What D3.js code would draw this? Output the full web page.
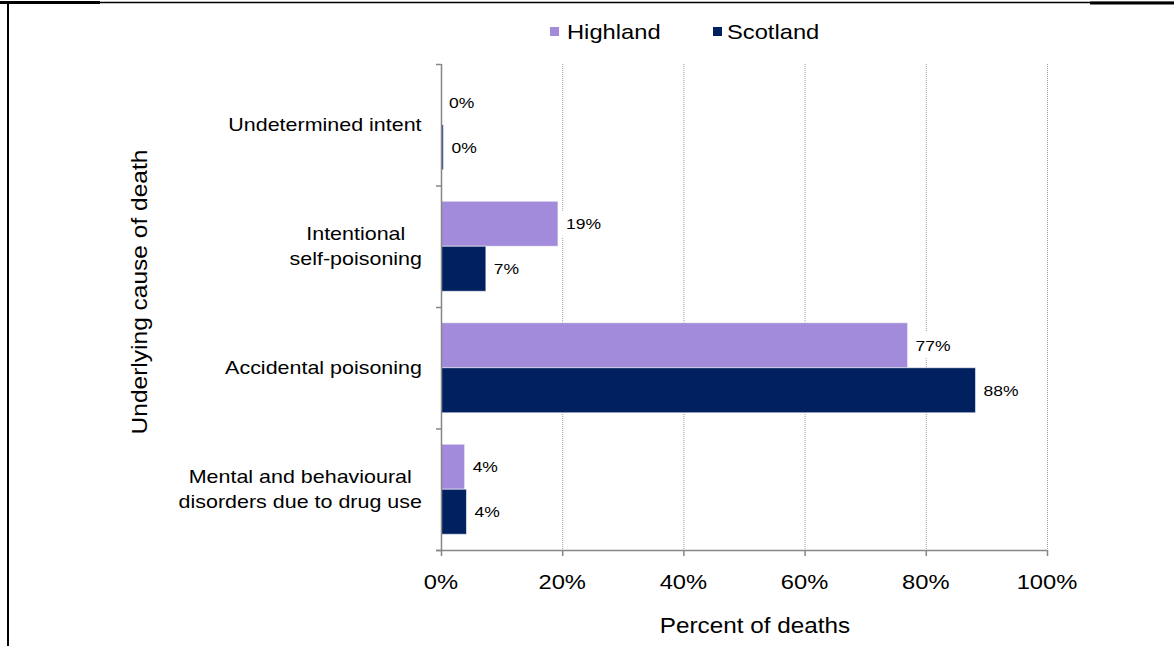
<!DOCTYPE html>
<html>
<head>
<meta charset="utf-8">
<script src="https://cdn.jsdelivr.net/npm/d3@7"></script>
<style>
  html, body { margin: 0; padding: 0; background: #fff; }
  svg { display: block; font-family: "Liberation Sans", Arial, sans-serif; }
</style>
</head>
<body>
<svg id="chart" width="1174" height="646"></svg>
<script>
// Underlying cause of drug-related deaths, Highland vs Scotland (percent of deaths)
const categories = [
  ["Undetermined intent"],
  ["Intentional", "self-poisoning"],
  ["Accidental poisoning"],
  ["Mental and behavioural", "disorders due to drug use"]
];
const seriesNames = ["Highland", "Scotland"];
const highland = [0, 19.3, 77.0, 3.9];
const scotland = [0.4, 7.4, 88.2, 4.2];
const xTicks = [0, 20, 40, 60, 80, 100];
const colors = ["#a28bdb", "#00205f"];

const SX = 1.13; // horizontal stretch of the lettering

const svg = d3.select("#chart");
const W = 1174, H = 646;
svg.append("rect").attr("width", W).attr("height", H).attr("fill", "#fff");

// stretched text placed at an anchor point
function label(parent, x, y, str, size, anchor, rotate) {
  const g = parent.append("g")
    .attr("transform", `translate(${x},${y})${rotate ? ` rotate(${rotate})` : ""} scale(${SX},1)`);
  return g.append("text")
    .attr("x", 0).attr("y", 0)
    .attr("text-anchor", anchor || "start")
    .attr("font-size", size)
    .attr("fill", "#000")
    .text(str);
}

// frame lines of the surrounding table cell
svg.append("line").attr("x1", 0).attr("x2", W).attr("y1", 2.5).attr("y2", 2.5)
  .attr("stroke", "#000").attr("stroke-width", 1.5);
svg.append("line").attr("x1", 0).attr("x2", 100).attr("y1", 2.5).attr("y2", 2.5)
  .attr("stroke", "#000").attr("stroke-width", 3);
svg.append("line").attr("x1", 1090).attr("x2", W).attr("y1", 3).attr("y2", 3)
  .attr("stroke", "#000").attr("stroke-width", 3);
svg.append("line").attr("x1", 8).attr("x2", 8).attr("y1", 2).attr("y2", H)
  .attr("stroke", "#000").attr("stroke-width", 2);

const plot = { left: 441, right: 1047, top: 64, bottom: 550 };

const x = d3.scaleLinear().domain([0, 100]).range([plot.left, plot.right]);
const catKeys = categories.map(c => c.join(" "));
const y = d3.scaleBand().domain(catKeys).range([plot.top, plot.bottom]).padding(0);
const y1 = d3.scaleBand().domain(seriesNames).range([0, y.bandwidth()])
  .paddingInner(0).paddingOuter(0.35);

// vertical dotted gridlines
svg.append("g").selectAll("line")
  .data(xTicks.filter(t => t > 0))
  .join("line")
  .attr("x1", d => x(d) + 0.5).attr("x2", d => x(d) + 0.5)
  .attr("y1", plot.top).attr("y2", plot.bottom)
  .attr("stroke", "#9a9a9a").attr("stroke-width", 1)
  .attr("stroke-dasharray", "1,1");

// bars
const rows = catKeys.map((k, i) => ({ key: k, values: [highland[i], scotland[i]] }));
const group = svg.append("g").selectAll("g")
  .data(rows).join("g")
  .attr("transform", d => `translate(0,${y(d.key)})`);

group.selectAll("rect.bar")
  .data(d => d.values.map((v, j) => ({ v, s: seriesNames[j], j })))
  .join("rect")
  .attr("class", "bar")
  .attr("x", x(0))
  .attr("y", d => y1(d.s))
  .attr("width", d => Math.max(0, x(d.v) - x(0)))
  .attr("height", y1.bandwidth())
  .attr("fill", d => d.j === 1 && d.v < 1 ? "#2e4a8e" : colors[d.j])
  .attr("stroke", d => d.v > 0 ? "rgba(255,255,255,0.55)" : "none")
  .attr("stroke-width", 1);

// value labels with white backing
const fmt = v => Math.round(v) + "%";
rows.forEach(row => {
  row.values.forEach((v, j) => {
    const lx = x(v) + 8;
    const ly = y(row.key) + y1(seriesNames[j]) + y1.bandwidth() / 2;
    const bg = svg.append("rect").attr("fill", "#fff");
    const t = label(svg, lx, ly, fmt(v), 15.5, "start").attr("dy", "0.35em");
    const w = t.node().getBBox().width * SX;
    bg.attr("x", lx - 4).attr("y", ly - 13).attr("width", w + 8).attr("height", 26);
  });
});

// y axis
const yAxis = svg.append("g");
yAxis.append("line")
  .attr("x1", plot.left + 0.5).attr("x2", plot.left + 0.5)
  .attr("y1", plot.top).attr("y2", plot.bottom)
  .attr("stroke", "#868686").attr("stroke-width", 1.5);
yAxis.selectAll("line.tk")
  .data([plot.top, ...catKeys.slice(1).map(k => y(k)), plot.bottom])
  .join("line").attr("class", "tk")
  .attr("x1", plot.left - 5).attr("x2", plot.left)
  .attr("y1", d => d + 0.5).attr("y2", d => d + 0.5)
  .attr("stroke", "#868686").attr("stroke-width", 1.5);

// category labels: centred lines, block right-aligned to the axis
categories.forEach((lines, i) => {
  const cy = y(catKeys[i]) + y.bandwidth() / 2;
  const lh = 25;
  const g = svg.append("g");
  const t = g.append("text")
    .attr("font-size", 19)
    .attr("fill", "#000")
    .attr("text-anchor", "middle");
  lines.forEach((ln, k) => {
    t.append("tspan")
      .attr("x", 0)
      .attr("y", cy + (k - (lines.length - 1) / 2) * lh)
      .attr("dy", "0.35em")
      .text(ln);
  });
  const w = t.node().getBBox().width * SX;
  g.attr("transform", `translate(${422 - w / 2},0) scale(${SX},1)`);
});

// x axis
const xAxis = svg.append("g");
xAxis.append("line")
  .attr("x1", plot.left - 5).attr("x2", plot.right)
  .attr("y1", plot.bottom + 0.5).attr("y2", plot.bottom + 0.5)
  .attr("stroke", "#868686").attr("stroke-width", 1.5);
xAxis.selectAll("line.tk").data(xTicks).join("line").attr("class", "tk")
  .attr("x1", d => x(d) + 0.5).attr("x2", d => x(d) + 0.5)
  .attr("y1", plot.bottom).attr("y2", plot.bottom + 6)
  .attr("stroke", "#868686").attr("stroke-width", 1.5);
xTicks.forEach(d => label(xAxis, x(d), 589, d + "%", 21, "middle"));

// axis titles
label(svg, 755, 633, "Percent of deaths", 21.5, "middle");
label(svg, 147, 292, "Underlying cause of death", 21.7, "middle", -90);

// legend
const legItems = [
  { name: seriesNames[0], sq: 550, tx: 567 },
  { name: seriesNames[1], sq: 713, tx: 727 }
];
legItems.forEach((it, i) => {
  svg.append("rect")
    .attr("x", it.sq).attr("y", 27).attr("width", 9).attr("height", 9)
    .attr("fill", colors[i]);
  label(svg, it.tx, 32, it.name, 21, "start").attr("dy", "0.35em");
});
</script>
</body>
</html>
